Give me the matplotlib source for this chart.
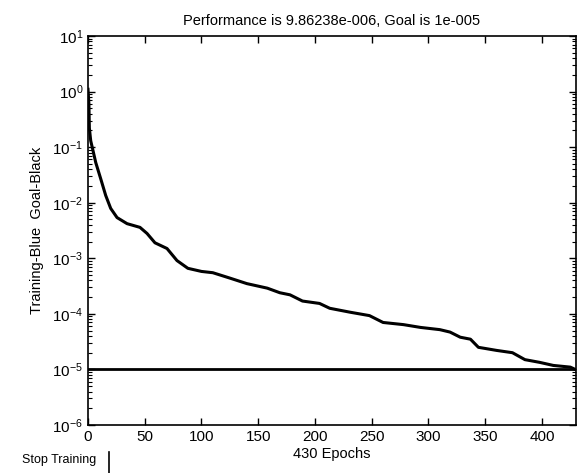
import matplotlib
matplotlib.use("Agg")
import matplotlib.pyplot as plt
import numpy as np
from matplotlib.ticker import LogLocator, FixedLocator, NullFormatter, FuncFormatter

plt.rcParams['font.family'] = ['Liberation Sans', 'DejaVu Sans']
plt.rcParams['mathtext.fontset'] = 'custom'
plt.rcParams['mathtext.rm'] = 'Liberation Sans'
plt.rcParams['mathtext.it'] = 'Liberation Sans'

epochs = [0, 0.8, 1.2, 2.4, 4.5, 6.8, 11.2, 15.6, 20, 25.6, 34.4, 45.8, 52, 59, 69.6, 78.4, 88, 100,
          110, 125, 140, 158, 169, 178, 189, 204, 213, 231, 248, 260, 278, 293, 310,
          319, 328, 337, 344, 360, 374, 385, 398, 410, 425, 430]
performance = [1.1, 0.6, 0.22, 0.13, 0.085, 0.053, 0.027, 0.0135, 0.0079, 0.0054, 0.0042, 0.0036,
               0.0028, 0.0019, 0.0015, 0.00091, 0.00066, 0.00058,
               0.00055, 0.00044, 0.00035, 0.00029, 0.00024, 0.00022, 0.00017, 0.000154,
               0.000126, 0.000107, 0.000093, 0.00007, 0.000064, 0.000057, 0.000052,
               0.000047, 0.000038, 0.000035, 0.000025, 0.000022, 0.00002, 0.000015,
               0.0000134, 0.0000118, 0.000011, 9.86238e-6]
goal = 1e-5
x_ticks = [0, 50, 100, 150, 200, 250, 300, 350, 400]
title = "Performance is 9.86238e-006, Goal is 1e-005"

fig = plt.figure(figsize=(5.82, 4.73), dpi=100)
ax = fig.add_axes([88/582, 1-425/473, 488/582, 389/473])

ax.semilogy(epochs, performance, color='black', lw=2.2)
ax.axhline(goal, color='black', lw=2.0)

ax.set_xlim(0, 430)
ax.set_ylim(1e-6, 1e1)
ax.xaxis.set_major_locator(FixedLocator(x_ticks))
ax.yaxis.set_major_locator(LogLocator(base=10, numticks=20))
ax.yaxis.set_minor_locator(LogLocator(base=10, subs=np.arange(2, 10), numticks=20))
ax.yaxis.set_minor_formatter(NullFormatter())
ax.yaxis.set_major_formatter(FuncFormatter(lambda v, p: r'$\mathregular{10^{%d}}$' % int(round(np.log10(v)))))
ax.tick_params(which='both', direction='in', top=True, right=True, labelsize=11)
ax.tick_params(which='major', length=5, width=1)
ax.tick_params(which='minor', length=3, width=0.8)
for s in ax.spines.values():
    s.set_linewidth(1.2)

ax.set_title(title, fontsize=10.5, pad=8)
ax.set_ylabel("Training-Blue  Goal-Black", fontsize=10.5, labelpad=6)
ax.set_xlabel("430 Epochs", fontsize=10.5, labelpad=2)

fig.text(59/582, 1-460/473, "Stop Training", fontsize=9, va='center', ha='center')
fig.add_artist(plt.Line2D([109/582, 109/582], [1-452/473, 0], color='black', lw=1.2, transform=fig.transFigure))

fig.savefig("out.png", dpi=100)
